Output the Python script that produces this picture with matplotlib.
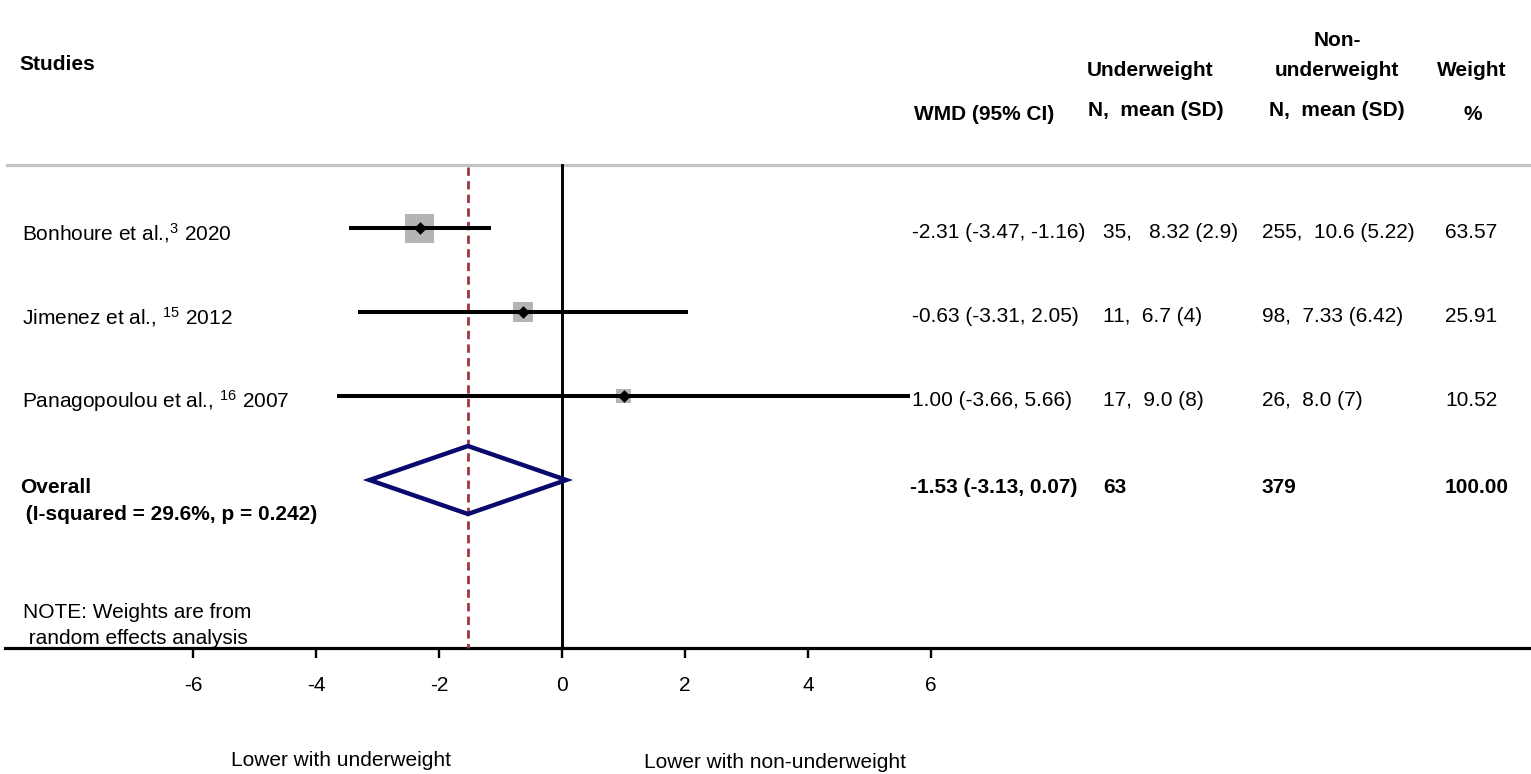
import numpy as np
import matplotlib
matplotlib.use("Agg")
import matplotlib.pyplot as plt
from matplotlib.patches import Polygon

plt.rcParams['font.family'] = ['Liberation Sans', 'DejaVu Sans']
plt.rcParams['mathtext.default'] = 'regular'

# -----------------------
# Data
# -----------------------
studies = ["Bonhoure et al.,$^{3}$ 2020",
           "Jimenez et al., $^{15}$ 2012",
           "Panagopoulou et al., $^{16}$ 2007"]
wmd = [-2.31, -0.63, 1.00]
ci_low = [-3.47, -3.31, -3.66]
ci_high = [-1.16, 2.05, 5.66]
under_txt = ["35,   8.32 (2.9)", "11,  6.7 (4)", "17,  9.0 (8)"]
nonunder_txt = ["255,  10.6 (5.22)", "98,  7.33 (6.42)", "26,  8.0 (7)"]
weights = [63.57, 25.91, 10.52]

overall_wmd = -1.53
overall_ci = (-3.13, 0.07)
overall_n_under = 63
overall_n_non = 379
overall_weight = 100.00
heterogeneity = " (I-squared = 29.6%, p = 0.242)"

xticks = [-6, -4, -2, 0, 2, 4, 6]

# -----------------------
# Style
# -----------------------
W, H = 1531, 774
X0_PX, PX_PER_UNIT = 562, 61.5      # where 0 sits, pixels per WMD unit
ROW0_PX, PX_PER_ROW = 228, 84       # first study row, row spacing
FS = 15
COLOR_BOX = "#b4b4b4"
COLOR_DIAMOND = "#0a0a6e"
COLOR_REF = "#a0343c"
COLOR_RULE = "#c4c4c4"


def px2x(p):
    return (p - X0_PX) / PX_PER_UNIT


def px2r(p):
    return (p - ROW0_PX) / PX_PER_ROW


fig = plt.figure(figsize=(W / 100, H / 100), dpi=100)
left = 5 / W
ax = fig.add_axes([left, 0, 1 - left, 1])
ax.set_xlim(px2x(5), px2x(W))
ax.set_ylim(px2r(H), px2r(0))


def ftext(x, y, s, **kw):
    kw.setdefault('va', 'center')
    kw.setdefault('fontsize', FS)
    fig.text(x / W, 1 - y / H, s, **kw)


# axis
for side in ['top', 'left', 'right']:
    ax.spines[side].set_visible(False)
axis_row = px2r(648)
ax.spines['bottom'].set_position(('data', axis_row))
ax.spines['bottom'].set_linewidth(2.3)
ax.set_xticks(xticks)
ax.set_xticklabels([str(t) for t in xticks], fontsize=FS)
ax.tick_params(axis='x', direction='out', length=7, width=1.7, pad=13)
ax.set_yticks([])

# top rule
ax.axhline(px2r(165), xmin=(7 - 5) / (W - 5), xmax=1, color=COLOR_RULE, lw=2.3)

rows = np.arange(len(studies))
top_r = px2r(165)

# null line and overall effect line
ax.plot([0, 0], [top_r, axis_row], color='black', lw=2.1, zorder=3)
ax.plot([overall_wmd, overall_wmd], [px2r(167), axis_row], color=COLOR_REF,
        lw=2.0, dashes=(3.0, 1.9), zorder=4)

# study CIs, boxes, points
ax.hlines(rows, ci_low, ci_high, color='black', lw=2.9, zorder=5)
box_px = 29 * (np.array(weights) / max(weights)) ** 0.4
ax.scatter(wmd, rows, marker='s', s=(box_px * 0.72) ** 2, color=COLOR_BOX,
           linewidths=0, zorder=4)
ax.scatter(wmd, rows, marker='D', s=42, color='black', linewidths=0, zorder=6)

# overall diamond
r_ov = len(studies)
half = 34 / PX_PER_ROW
diamond = Polygon([[overall_ci[0], r_ov], [overall_wmd, r_ov - half],
                   [overall_ci[1], r_ov], [overall_wmd, r_ov + half]],
                  closed=True, fill=False, edgecolor=COLOR_DIAMOND, lw=3.2,
                  joinstyle='miter', zorder=6)
ax.add_patch(diamond)

# headers
ftext(19, 65, "Studies", fontweight='bold')
ftext(984, 114, "WMD (95% CI)", fontweight='bold', ha='center')
ftext(1150, 70, "Underweight", fontweight='bold', ha='center')
ftext(1156, 110, "N,  mean (SD)", fontweight='bold', ha='center')
ftext(1337, 40, "Non-", fontweight='bold', ha='center')
ftext(1337, 70, "underweight", fontweight='bold', ha='center')
ftext(1337, 110, "N,  mean (SD)", fontweight='bold', ha='center')
ftext(1472, 70, "Weight", fontweight='bold', ha='center')
ftext(1473, 114, "%", fontweight='bold', ha='center')

# study rows
for i, name in enumerate(studies):
    y = ROW0_PX + PX_PER_ROW * i + 5
    ftext(22, y, name)
    ftext(912, y, f"{wmd[i]:.2f} ({ci_low[i]:.2f}, {ci_high[i]:.2f})")
    ftext(1103, y, under_txt[i])
    ftext(1262, y, nonunder_txt[i])
    ftext(1445, y, f"{weights[i]:.2f}")

# overall row
y = ROW0_PX + PX_PER_ROW * r_ov + 7
ftext(20, y, "Overall", fontweight='bold')
ftext(20, y + 27, heterogeneity, fontweight='bold')
ftext(910, y, f"{overall_wmd:.2f} ({overall_ci[0]:.2f}, {overall_ci[1]:.2f})",
      fontweight='bold')
ftext(1103, y, str(overall_n_under), fontweight='bold')
ftext(1262, y, str(overall_n_non), fontweight='bold')
ftext(1445, y, f"{overall_weight:.2f}", fontweight='bold')

# note
ftext(23, 612, "NOTE: Weights are from")
ftext(23, 639, " random effects analysis")

# direction labels
ftext(341, 760, "Lower with underweight", ha='center')
ftext(644, 762, "Lower with non-underweight", ha='left')

fig.savefig("out.png", dpi=100)
